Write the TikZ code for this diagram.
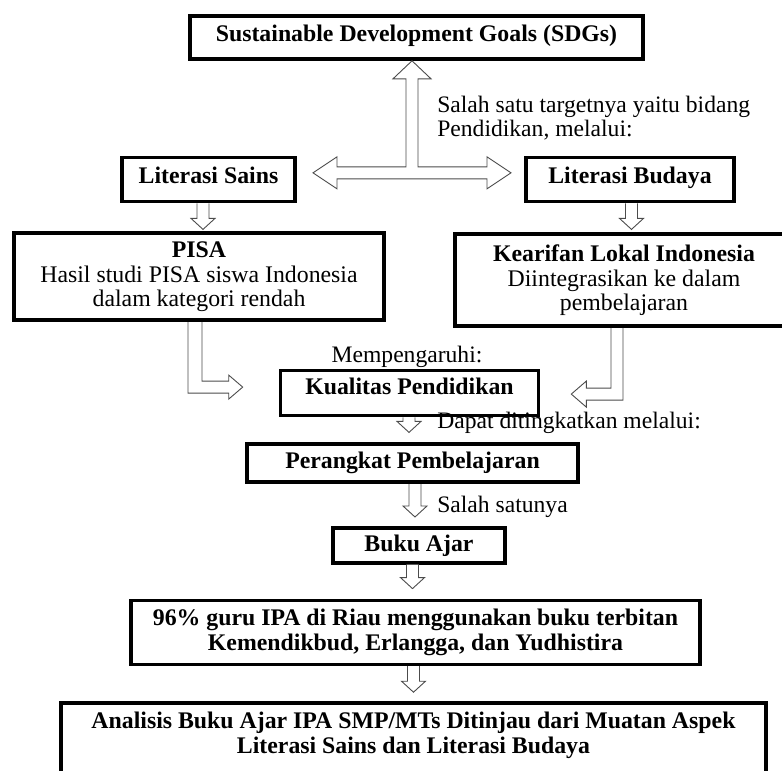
\documentclass[tikz,border=0pt]{standalone}
\usepackage{fontspec}
\setmainfont{Liberation Serif}
\usetikzlibrary{calc, positioning}

\begin{document}
\begin{tikzpicture}[semithick, font=\fontsize{23.6}{24}\selectfont]
  \tikzstyle{box}=[draw=black, line width=3.6pt, fill=white, align=center,
                   inner sep=0pt, font=\fontsize{23.8}{24.5}\selectfont\bfseries]
  \tikzstyle{note}=[inner sep=0pt, align=left]
  \tikzstyle{blockarr}=[draw=black!70, fill=white, line width=0.9pt]
  \tikzstyle{blockdown}=[blockarr, to path={let \p1=(\tikztostart), \p2=(\tikztotarget) in
      (\x1-6pt,\y1) -- (\x1-6pt,\y2+11pt) -- (\x1-12pt,\y2+11pt) -- (\x1,\y2)
      -- (\x1+12pt,\y2+11pt) -- (\x1+6pt,\y2+11pt) -- (\x1+6pt,\y1)}]
  \tikzstyle{blockright}=[blockarr, to path={let \p1=(\tikztostart), \p2=(\tikztotarget) in
      (\x1-7pt,\y1) -- (\x1-7pt,\y2-6pt) -- (\x2-14pt,\y2-6pt) -- (\x2-14pt,\y2-12pt) -- (\x2,\y2)
      -- (\x2-14pt,\y2+12pt) -- (\x2-14pt,\y2+6pt) -- (\x1+7pt,\y2+6pt) -- (\x1+7pt,\y1)}]
  \tikzstyle{blockleft}=[blockarr, to path={let \p1=(\tikztostart), \p2=(\tikztotarget) in
      (\x1+6pt,\y1) -- (\x1+6pt,\y2-6pt) -- (\x2+15pt,\y2-6pt) -- (\x2+15pt,\y2-13pt) -- (\x2,\y2)
      -- (\x2+15pt,\y2+13pt) -- (\x2+15pt,\y2+6pt) -- (\x1-6pt,\y2+6pt) -- (\x1-6pt,\y1)}]

  \useasboundingbox (0,0) rectangle (782pt,-771pt);

  \node[box, minimum width=453pt, minimum height=43pt, text depth=9pt] (sdg) at (416.5pt,-37.5pt)
        {Sustainable Development Goals (SDGs)};
  \node[box, minimum width=173pt, minimum height=44pt, text depth=9pt] (sains)  [below=95pt of sdg, xshift=-208pt]
        {Literasi Sains};
  \node[box, minimum width=208pt, minimum height=44pt, text depth=9pt] (budaya) [below=95pt of sdg, xshift=213.5pt]
        {Literasi Budaya};
  \node[box, minimum width=370pt, minimum height=87pt] (pisa)   [below=28pt of sains, xshift=-9.5pt]
        {PISA\\\mdseries Hasil studi PISA siswa Indonesia\\\mdseries dalam kategori rendah};
  \node[box, minimum width=338pt, minimum height=92pt] (kearifan) [below=29pt of budaya, xshift=-6pt]
        {Kearifan Lokal Indonesia\\\mdseries Diintegrasikan ke dalam\\\mdseries pembelajaran};
  \node[box, minimum width=258pt, minimum height=45pt, text depth=14pt] (kualitas) [below=308pt of sdg, xshift=-7pt]
        {Kualitas Pendidikan};
  \node[box, minimum width=331pt, minimum height=38pt] (perangkat) [below=25pt of kualitas, xshift=3pt]
        {Perangkat Pembelajaran};
  \node[box, minimum width=172pt, minimum height=35pt] (buku) [below=42pt of perangkat, xshift=6.5pt]
        {Buku Ajar};
  \node[box, minimum width=569pt, minimum height=64pt] (guru) [below=34pt of buku, xshift=-3.5pt]
        {96\% guru IPA di Riau menggunakan buku terbitan\\Kemendikbud, Erlangga, dan Yudhistira};
  \node[box, minimum width=705pt, inner ysep=9pt, text depth=40pt] (analisis) [below=35pt of guru, xshift=-2pt]
        {Analisis Buku Ajar IPA SMP/MTs Ditinjau dari Muatan Aspek\\Literasi Sains dan Literasi Budaya};

  \node[note, anchor=north west] (target) at (437pt,-95.5pt)
        {Salah satu targetnya yaitu bidang\\Pendidikan, melalui:};
  \node[note, anchor=base]      (affect)  at (407pt,-362pt) {Mempengaruhi:};
  \node[note, anchor=base west] (improve) at (437pt,-428pt) {Dapat ditingkatkan melalui:};
  \node[note, anchor=base west] (oneof)   at (437pt,-512pt) {Salah satunya};

  % three-way arrow below the SDGs box
  \coordinate (tUp) at ([xshift=-4.5pt]sdg.south);
  \draw[blockarr] (tUp) -- ++(19pt,-18pt) -- ++(-13pt,0) -- ++(0,-88pt) -- ++(69pt,0)
        -- ++(0,10pt) -- ++(24pt,-16pt) -- ++(-24pt,-16pt) -- ++(0,10pt) -- ++(-150pt,0)
        -- ++(0,-10pt) -- ++(-24pt,16pt) -- ++(24pt,16pt) -- ++(0,-10pt) -- ++(69pt,0)
        -- ++(0,88pt) -- ++(-13pt,0) -- cycle;

  \path
        ([xshift=-5.5pt]sains.south)    edge[blockdown]  ([yshift=2pt]pisa.north)
        ([xshift=1.5pt]budaya.south)    edge[blockdown]  ([yshift=3pt]kearifan.north)
        ([xshift=-4pt]pisa.south)       edge[blockright] ([xshift=-36pt,yshift=6pt]kualitas.west)
        ([xshift=-7pt]kearifan.south)   edge[blockleft]  ([xshift=31pt,yshift=-1pt]kualitas.east)
        ([xshift=-0.5pt]kualitas.south) edge[blockdown]  ([yshift=10pt]perangkat.north)
        ([xshift=2.5pt]perangkat.south) edge[blockdown]  ([yshift=9pt]buku.north)
        ([xshift=-6.5pt]buku.south)     edge[blockdown]  ([yshift=10pt]guru.north)
        ([xshift=-2pt]guru.south)       edge[blockdown]  ([yshift=9pt]analisis.north);
\end{tikzpicture}
\end{document}
